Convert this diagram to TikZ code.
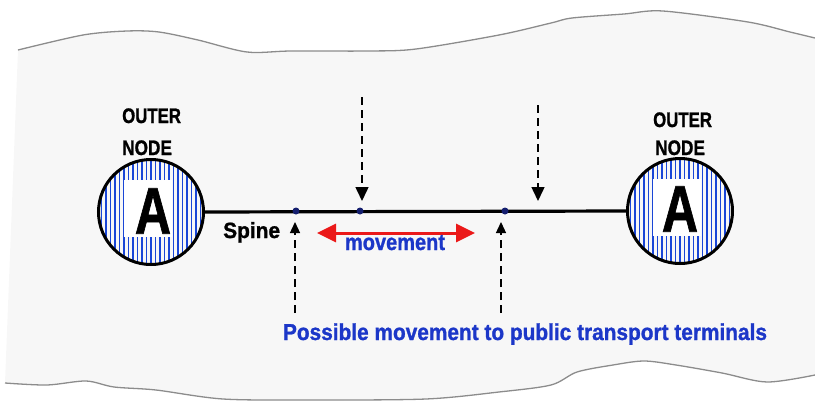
\documentclass[tikz,border=0pt]{standalone}
\usepackage{fontspec}
\setmainfont{Liberation Sans}[BoldFeatures={FakeBold=1.2}]
\usepackage{graphicx}
\usetikzlibrary{arrows.meta}
\definecolor{bgfill}{RGB}{247,247,247}
\definecolor{waveline}{RGB}{140,140,140}
\definecolor{stripeblue}{RGB}{25,70,215}
\definecolor{txtblue}{RGB}{28,55,200}
\definecolor{dotnavy}{RGB}{20,30,110}
\definecolor{arrred}{RGB}{235,25,25}
\newcommand{\fsz}[1]{\fontsize{#1}{#1}\selectfont\bfseries}
\tikzset{
  outercircle/.style={circle, draw=black, line width=3, minimum size=105, inner sep=0},
  bigletter/.style={inner sep=0, font=\fsz{66}},
  lbl/.style={inner sep=0, font=\fsz{21}},
  spinelbl/.style={inner sep=0, font=\fsz{22}},
  bluelbl/.style={inner sep=0, text=txtblue, font=\fsz{23}},
  spinedot/.style={circle, fill=dotnavy, minimum size=7, inner sep=0},
  dnarrow/.style={line width=1.5, dash pattern=on 8pt off 5pt, -{Triangle[length=14pt,width=13pt]}},
  uparrow/.style={line width=1.3, dash pattern=on 8pt off 5pt, -{Triangle[length=11pt,width=10pt]}},
  redarrow/.style={arrred, line width=3, {Triangle[length=19pt,width=18pt]}-{Triangle[length=19pt,width=18pt]}},
  wave/.style={waveline, line width=1.3}
}
\begin{document}
\begin{tikzpicture}[x=1pt,y=-1pt]
\useasboundingbox (0,0) rectangle (815,400);
% background band
\fill[bgfill] plot[smooth, tension=0.5] coordinates {(18,50) (83,35) (127,31) (159,32) (198,40) (247,52) (291,51) (369,51) (416,49) (499,35) (551,23) (572,18) (624,14) (663,11) (748,22) (790,32) (815,38)}
  -- (815,375) -- plot[smooth, tension=0.5] coordinates {(815,375) (767,382) (722,373) (676,365) (644,361) (613,365) (577,372) (551,385) (499,392) (426,399) (312,400) (223,399) (156,390) (114,387) (86,381) (47,385) (5,383)} -- cycle;
\draw[wave] plot[smooth, tension=0.5] coordinates {(18,50) (83,35) (127,31) (159,32) (198,40) (247,52) (291,51) (369,51) (416,49) (499,35) (551,23) (572,18) (624,14) (663,11) (748,22) (790,32) (815,38)};
\draw[wave] plot[smooth, tension=0.5] coordinates {(5,383) (47,385) (86,381) (114,387) (156,390) (223,399) (312,400) (426,399) (499,392) (551,385) (577,372) (613,365) (644,361) (676,365) (722,373) (767,382) (815,375)};

% striped circles
\foreach \cx/\cy in {151/212, 680/211} {
  \begin{scope}
    \clip (\cx,\cy) circle (52.5);
    \foreach \i in {-12,...,12}
      \draw[stripeblue, line width=1.8] (\cx+\i*4.5,\cy-60) -- (\cx+\i*4.5,\cy+60);
  \end{scope}
  \fill[white] (\cx-27,\cy-32) rectangle (\cx+21,\cy+25);
}
\node[outercircle] (L) at (151,212) {};
\node[outercircle] (R) at (680,211) {};
\node[bigletter] (LA) at (153,211) {\scalebox{0.76}[1]{A}};
\node[bigletter] (RA) at (680,209) {\scalebox{0.76}[1]{A}};

% outer node labels
\node[lbl, anchor=base west] (LO) at (122,123) {\scalebox{0.8}[1]{OUTER}};
\node[lbl, anchor=base west] (LN) at (122,155) {\scalebox{0.82}[1]{NODE}};
\node[lbl, anchor=base west] (RO) at (653,127) {\scalebox{0.8}[1]{OUTER}};
\node[lbl, anchor=base west] (RN) at (655,155) {\scalebox{0.82}[1]{NODE}};

% spine
\draw[line width=3.2] (L.east) -- (R.west);
\node[spinelbl, anchor=base west] (SP) at (223,238) {\scalebox{0.95}[1]{Spine}};
\node[spinedot] (d1) at (296,211) {};
\node[spinedot] (d2) at (360,211) {};
\node[spinedot] (d3) at (505,211) {};

% dashed arrows from above
\coordinate (t1) at (362,97);
\coordinate (h1) at (362,201);
\coordinate (t2) at (538,105);
\coordinate (h2) at (538,201);
\draw[dnarrow] (t1) -- (h1);
\draw[dnarrow] (t2) -- (h2);

% dashed arrows from below
\coordinate (b1) at (295,313);
\coordinate (u1) at (295,222);
\coordinate (b2) at (501,313);
\coordinate (u2) at (501,222);
\draw[uparrow] (b1) -- (u1);
\draw[uparrow] (b2) -- (u2);

% movement
\coordinate (ml) at (317,233);
\coordinate (mr) at (475,233);
\draw[redarrow] (ml) -- (mr);
\node[bluelbl, anchor=base] (MV) at (395,250) {\scalebox{0.87}[1]{movement}};

\node[bluelbl, anchor=base] (PT) at (525,340) {\scalebox{0.906}[1]{Possible movement to public transport terminals}};
\end{tikzpicture}
\end{document}
